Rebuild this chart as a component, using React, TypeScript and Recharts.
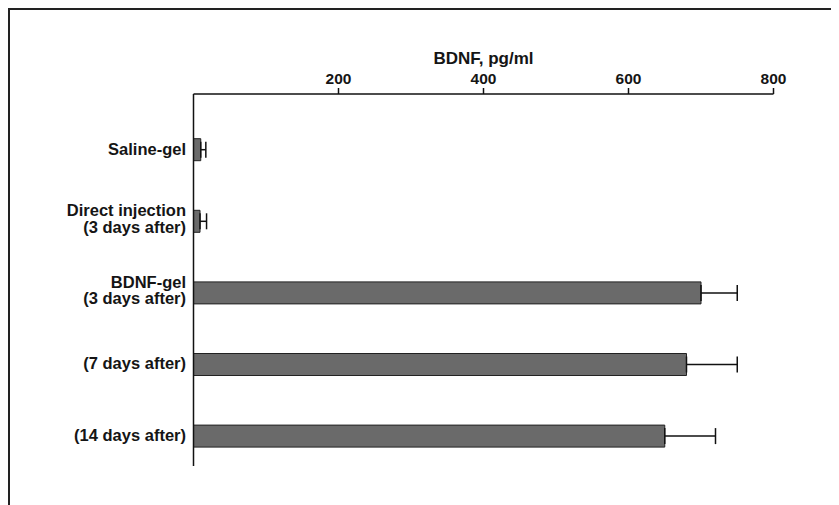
import React from "react";
import { BarChart, Bar, XAxis, YAxis, ErrorBar } from "recharts";

const categories = [
  "Saline-gel",
  "Direct injection\n(3 days after)",
  "BDNF-gel\n(3 days after)",
  "(7 days after)",
  "(14 days after)",
];
const bdnfMean = [10, 9, 700, 680, 650];
const bdnfErrorUpper = [7, 9, 50, 70, 70];
const xTicks = [200, 400, 600, 800];
const xDomain = [0, 800];
const axisTitle = "BDNF, pg/ml";

const data = categories.map((name, i) => ({
  name,
  value: bdnfMean[i],
  err: [0, bdnfErrorUpper[i]],
}));

const FONT = '"Liberation Sans", Arial, Helvetica, sans-serif';

const YTick = (props: any) => {
  const { x, y, payload } = props;
  const lines = String(payload.value).split("\n");
  const offsets = lines.length === 1 ? [5] : [-5, 11.5];
  return (
    <text
      x={x}
      y={y}
      textAnchor="end"
      fontFamily={FONT}
      fontSize={16.5}
      fontWeight={700}
      fill="#151515"
    >
      {lines.map((l, i) => (
        <tspan key={i} x={x} y={y + offsets[i]}>
          {l}
        </tspan>
      ))}
    </text>
  );
};

export default function App() {
  return (
    <div style={{ position: "relative", width: 831, height: 497 }}>
      <div
        style={{
          position: "absolute",
          left: 0,
          top: 0,
          right: 0,
          bottom: 0,
          borderTop: "2px solid #222",
          borderLeft: "2px solid #222",
          boxSizing: "border-box",
        }}
      />
      <div style={{ position: "absolute", left: 0, top: 0 }}>
        <BarChart
          layout="vertical"
          width={831}
          height={497}
          data={data}
          margin={{ top: 0, right: 65.5, bottom: 39, left: 0 }}
        >
          <XAxis
            type="number"
            orientation="top"
            domain={xDomain}
            ticks={xTicks}
            height={86}
            tickSize={6}
            tickMargin={4}
            axisLine={{ stroke: "#111", strokeWidth: 1.5 }}
            tickLine={{ stroke: "#111", strokeWidth: 1.5 }}
            tick={{ fontFamily: FONT, fontSize: 15.5, fontWeight: 700, fill: "#151515" }}
            label={{
              value: axisTitle,
              position: "insideTop",
              offset: 44,
              fontFamily: FONT,
              fontSize: 17,
              fontWeight: 700,
              fill: "#151515",
            }}
          />
          <YAxis
            type="category"
            dataKey="name"
            width={185.5}
            interval={0}
            tickSize={0}
            tickMargin={7.5}
            tickLine={false}
            axisLine={{ stroke: "#111", strokeWidth: 1.5 }}
            padding={{ top: 19.7, bottom: -5.7 }}
            tick={(p: any) => <YTick {...p} />}
          />
          <Bar
            dataKey="value"
            fill="#6a6a6a"
            stroke="#222"
            strokeWidth={1}
            barSize={22}
            isAnimationActive={false}
          >
            <ErrorBar
              dataKey="err"
              direction="x"
              width={8}
              stroke="#111"
              strokeWidth={1.5}
              isAnimationActive={false}
            />
          </Bar>
        </BarChart>
      </div>
    </div>
  );
}
